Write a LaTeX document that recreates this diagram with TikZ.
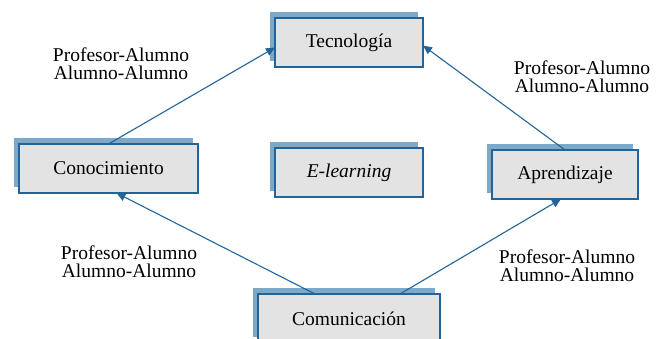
\documentclass[tikz,border=0pt]{standalone}
\usepackage{fontspec}
\setmainfont{Liberation Serif}
\usetikzlibrary{positioning, shadows, arrows.meta}
\definecolor{boxblue}{HTML}{22649A}
\definecolor{shadowblue}{HTML}{7EA8C8}
\definecolor{boxgray}{HTML}{E3E3E3}
\tikzset{
	every text node part/.style= {
		align=center
	},
	>={Triangle[length=9pt, width=8pt]},
	box/.style= {
		rectangle,
		draw=boxblue,
		fill=boxgray,
		line width=1.2pt,
		minimum height=49pt,
		inner sep=0pt,
		outer sep=0pt,
		font=\fontsize{19.5}{20}\selectfont,
		drop shadow={shadow xshift=-5.5pt, shadow yshift=6pt, opacity=1, fill=shadowblue}
	},
	rel/.style= {
		font=\fontsize{19.5}{18}\selectfont
	},
	link/.style= {
		->,
		boxblue,
		line width=1.1pt
	}
}

\begin{document}
\begin{tikzpicture}

	\useasboundingbox (0,0) rectangle (664pt,-339pt);

	\node (elearn)[box, minimum width=148pt] at (349pt,-172.5pt) {\itshape E-learning};
	\node (tec)[box, minimum width=148pt, above=81pt of elearn] {Tecnología};
	\node (com)[box, minimum width=182pt, below=97pt of elearn] {Comunicación};
	\node (cono)[box, minimum width=179pt, left=77pt of elearn, yshift=4pt] {Conocimiento};
	\node (apre)[box, minimum width=146pt, right=69pt of elearn, yshift=-2pt] {Aprendizaje};

	\node (rel1)[rel] at (121pt,-64pt) {Profesor-Alumno\\Alumno-Alumno};
	\node (rel2)[rel] at (582pt,-77pt) {Profesor-Alumno\\Alumno-Alumno};
	\node (rel3)[rel] at (129pt,-262pt) {Profesor-Alumno\\Alumno-Alumno};
	\node (rel4)[rel] at (567pt,-266pt) {Profesor-Alumno\\Alumno-Alumno};

	\draw[link] (cono.north) to ([yshift=-5pt]tec.west);
	\draw[link] (apre.north) to ([yshift=-3pt]tec.east);
	\draw[link] ([xshift=-34pt]com.north) to ([xshift=8pt]cono.south);
	\draw[link] ([xshift=51pt]com.north) to ([xshift=-4pt]apre.south);

\end{tikzpicture}
\end{document}
